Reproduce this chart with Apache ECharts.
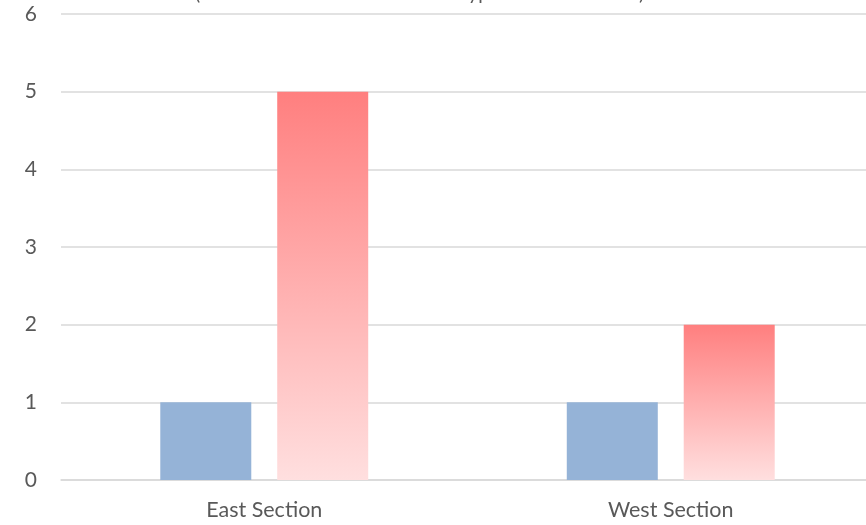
<!DOCTYPE html>
<html>
<head>
<meta charset="utf-8">
<script src="https://cdn.jsdelivr.net/npm/echarts@6/dist/echarts.min.js"></script>
<style>html,body{margin:0;padding:0;background:#fff}#c{width:866px;height:525px}</style>
</head>
<body>
<div id="c"></div>
<script>
const titleText = "(Number of Accidents for each type of Road Section)";
const categories = ["East Section", "West Section"];
const seriesA = [1, 1];
const seriesB = [5, 2];
const yTicks = {min: 0, max: 6, interval: 1};

const chart = echarts.init(document.getElementById('c'));
chart.setOption({
  animation: false,
  textStyle: {fontFamily: 'Lato'},
  title: {
    text: titleText, left: 190, top: -21,
    textStyle: {fontFamily: 'Lato', fontSize: 19.5, fontWeight: 'normal', color: '#595959'}
  },
  grid: {left: 61, right: -8, top: 14, bottom: 45, containLabel: false, outerBoundsMode: 'none'},
  xAxis: {
    type: 'category', data: categories,
    axisLine: {lineStyle: {color: '#d9d9d9', width: 1.5}},
    axisTick: {show: false},
    axisLabel: {color: '#595959', fontSize: 21.5, margin: 19, fontFamily: 'Lato'}
  },
  yAxis: {
    type: 'value', min: yTicks.min, max: yTicks.max, interval: yTicks.interval,
    axisLine: {show: false}, axisTick: {show: false},
    splitLine: {lineStyle: {color: '#d9d9d9', width: 1.5}},
    axisLabel: {color: '#595959', fontSize: 21, margin: 24, fontFamily: 'Lato'}
  },
  series: [
    {type: 'bar', data: seriesA, barWidth: 91, barGap: '28.5%',
     itemStyle: {color: '#95b3d7'}},
    {type: 'bar', data: seriesB, barWidth: 91,
     itemStyle: {color: new echarts.graphic.LinearGradient(0, 0, 0, 1, [
       {offset: 0, color: '#ff7f7f'},
       {offset: 1, color: '#ffdfdf'}
     ])}}
  ]
});
</script>
</body>
</html>
